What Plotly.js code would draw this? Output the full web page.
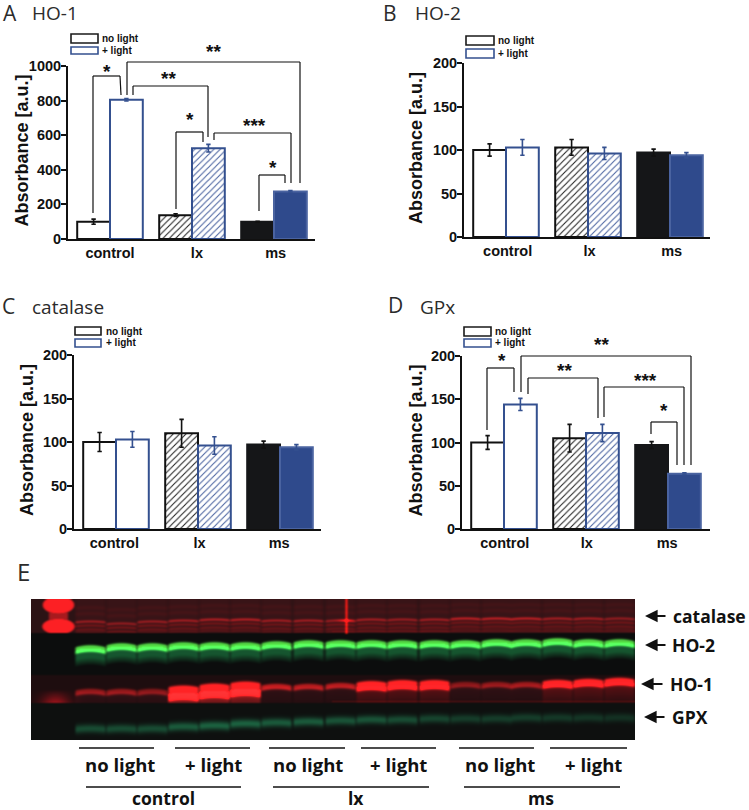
<!DOCTYPE html>
<html>
<head>
<meta charset="utf-8">
<script src="https://cdn.plot.ly/plotly-3.0.1.min.js"></script>
<style>html,body{margin:0;padding:0;background:#fff;overflow:hidden}#chart{width:749px;height:810px}</style>
</head>
<body>
<div id="chart"></div>
<script>
// ---------- bar chart data ----------
const groups = ["control", "lx", "ms"];
const groupIndex = [0, 1, 2];
const seriesNames = ["no light", "+ light"];

const ho1NoLight = [100, 138, 100];
const ho1NoLightErr = [15, 8, 3];
const ho1Light = [805, 525, 275];
const ho1LightErr = [7, 22, 5];

const ho2NoLight = [100, 103, 97];
const ho2NoLightErr = [7, 9, 4];
const ho2Light = [103, 96, 94];
const ho2LightErr = [9, 7, 3];

const catNoLight = [100, 110, 97];
const catNoLightErr = [11, 16, 4];
const catLight = [103, 96, 94];
const catLightErr = [9, 10, 3];

const gpxNoLight = [100, 105, 97];
const gpxNoLightErr = [8, 16, 4];
const gpxLight = [144, 111, 64];
const gpxLightErr = [7, 10, 1];

// ---------- blot readings (18 lanes) ----------
const catBandLevel = [.6,.55,.6,.65,.7,.75,.65,.65,.6,.65,.6,.65,.8,.8,.8,.65,.65,.55];
const catBandRow   = [22,24,22,21,20,20,21,21,21,20,20,20,19,19,19,19,19,19];
const ho2BandRow   = [49,47,47,46,46,46,45,44,44,44,44,44,44,43,43,42,43,43];
const ho1BandLevel = [.5,.5,.45,1,1,1,.7,.65,.65,1,1,1,.45,.5,.55,1,1,1];
const ho1BandRow   = [92,92,92,93,91,89,87,87,86,86,85,85,85,85,85,84,83,82];
const gpxBandLevel = [.4,.4,.4,.5,.55,.55,.5,.5,.45,.45,.4,.35,.3,.3,.3,.27,.25,.22];
const gpxBandRow   = [129,129,129,127,126,124,123,122,121,120,120,119,119,119,118,118,118,118];
const laneColumns  = [59,90,121,152,183,214,245,277,309,340,371,403,434,465,495,526,557,588];

// ---------- page geometry helpers ----------
const W = 749, H = 810;
const px = x => x / W;
const py = y => 1 - y / H;
const BLACK = "#111111", BLUE = "#34508f", FILLK = "#151618", FILLB = "#2f4a8c";
const ARIAL = "Liberation Sans, Arial, sans-serif";
const HEAD = "Open Sans, sans-serif";

const panels = [
  {ax:"", left:68, right:315, top:66, bot:239, ymax:1000, dtick:200, a:ho1NoLight, ae:ho1NoLightErr, b:ho1Light, be:ho1LightErr, ticks:[0,1.06,2.02], titleX:22},
  {ax:"2", left:464, right:710, top:63, bot:237, ymax:200, dtick:50, a:ho2NoLight, ae:ho2NoLightErr, b:ho2Light, be:ho2LightErr, ticks:[0.02,1.02,2.02], titleX:416},
  {ax:"3", left:74, right:321, top:355, bot:529, ymax:200, dtick:50, a:catNoLight, ae:catNoLightErr, b:catLight, be:catLightErr, ticks:[-0.02,1.02,1.99], titleX:27},
  {ax:"4", left:462, right:710, top:356, bot:529, ymax:200, dtick:50, a:gpxNoLight, ae:gpxNoLightErr, b:gpxLight, be:gpxLightErr, ticks:[0.01,1.01,1.99], titleX:415}
];

const traces = [];
const layout = {
  width: W, height: H, autosize: false, showlegend: false,
  margin: {l:0, r:0, t:0, b:0, pad:0},
  paper_bgcolor: "#fff", plot_bgcolor: "rgba(0,0,0,0)",
  barmode: "group", bargap: 0.2, bargroupgap: 0,
  font: {family: ARIAL, color: BLACK},
  shapes: [], annotations: []
};

// one slot per series; the hatched lx bar shares its slot through offsetgroup
function barPart(panel, slot, name, idx, vals, errs, style) {
  const marker = {
    color: style.fill,
    line: {color: style.line, width: 2}
  };
  if (style.hatch) {
    marker.pattern = {shape: "/", fgcolor: style.hatch, bgcolor: "#ffffff", size: 4.5, solidity: 0.24};
  }
  return {
    type: "bar", name: name, offsetgroup: slot,
    x: idx.map(i => groupIndex[i]), y: idx.map(i => vals[i]),
    xaxis: "x" + panel.ax, yaxis: "y" + panel.ax, marker: marker,
    error_y: {type: "data", array: idx.map(i => errs[i]), visible: true, color: style.err, thickness: 1.6, width: 2.2}
  };
}

panels.forEach(p => {
  traces.push(barPart(p, "a", seriesNames[0], [0], p.a, p.ae, {fill:"#ffffff", line:BLACK, err:BLACK}));
  traces.push(barPart(p, "a", seriesNames[0], [1], p.a, p.ae, {fill:"#ffffff", line:BLACK, err:BLACK, hatch:"#222222"}));
  traces.push(barPart(p, "a", seriesNames[0], [2], p.a, p.ae, {fill:FILLK, line:FILLK, err:BLACK}));
  traces.push(barPart(p, "b", seriesNames[1], [0], p.b, p.be, {fill:"#ffffff", line:BLUE, err:BLUE}));
  traces.push(barPart(p, "b", seriesNames[1], [1], p.b, p.be, {fill:"#ffffff", line:BLUE, err:BLUE, hatch:"#4a63a0"}));
  traces.push(barPart(p, "b", seriesNames[1], [2], p.b, p.be, {fill:FILLB, line:"#4a63a0", err:BLUE}));
  const xmin = -42 / 82, xmax = (p.right - p.left - 42) / 82;
  layout["xaxis" + p.ax] = {
    domain: [px(p.left), px(p.right)], range: [xmin, xmax], anchor: "y" + p.ax,
    tickmode: "array", tickvals: p.ticks, ticktext: groups, ticks: "",
    showline: true, linecolor: BLACK, linewidth: 2, showgrid: false, zeroline: false,
    tickfont: {family: ARIAL, size: 14.5, color: BLACK, weight: 700}, ticklabelstandoff: 0, fixedrange: true
  };
  layout["yaxis" + p.ax] = {
    domain: [py(p.bot), py(p.top)], range: [0, p.ymax], anchor: "x" + p.ax, dtick: p.dtick, tick0: 0,
    ticks: "outside", ticklen: 5, tickwidth: 2, tickcolor: BLACK, ticklabelstandoff: -3,
    showline: true, linecolor: BLACK, linewidth: 2, showgrid: false, zeroline: false,
    tickfont: {family: ARIAL, size: 14.5, color: BLACK, weight: 700},
    fixedrange: true
  };
  layout.annotations.push({
    xref: "paper", yref: "paper", x: px(p.titleX), y: py((p.top + p.bot) / 2 - 2), text: "Absorbance [a.u.]",
    textangle: -90, showarrow: false, xanchor: "center", yanchor: "middle",
    font: {family: ARIAL, size: 18, color: BLACK, weight: 700}
  });
});

// ---------- page furniture ----------
function seg(x0, y0, x1, y1, col, w) {
  layout.shapes.push({type: "line", xref: "paper", yref: "paper", x0: px(x0), y0: py(y0), x1: px(x1), y1: py(y1), line: {color: col || BLACK, width: w || 1.2}});
}
function label(text, x, y, size, opts) {
  opts = opts || {};
  layout.annotations.push({
    xref: "paper", yref: "paper", x: px(x), y: py(y), text: text, showarrow: false,
    xanchor: opts.anchor || "left", yanchor: "middle",
    font: {family: opts.family || ARIAL, size: size, color: opts.color || BLACK, weight: opts.weight || 400}
  });
}
function bracket(pts) {
  for (let i = 0; i + 1 < pts.length; i++) seg(pts[i][0], pts[i][1], pts[i+1][0], pts[i+1][1]);
}
function stars(text, x, y) { label(text, x, y + 2, 19, {anchor: "center", weight: 700}); }
function swatch(x0, x1, y0, y1, col) {
  layout.shapes.push({type: "rect", xref: "paper", yref: "paper", x0: px(x0), x1: px(x1), y0: py(y1), y1: py(y0), line: {color: col, width: 1.6}, fillcolor: "#fff"});
}

// legends
[
  {x0:71, x1:98, tx:100, r1:[34,43], r2:[47,54], t1:38, t2:50},
  {x0:466, x1:494, tx:496, r1:[36,45], r2:[49,58], t1:40, t2:53},
  {x0:75, x1:101, tx:104, r1:[327,335], r2:[339,347], t1:331, t2:343},
  {x0:464, x1:491, tx:493, r1:[327,336], r2:[339,347], t1:331, t2:343}
].forEach(l => {
  swatch(l.x0, l.x1, l.r1[0], l.r1[1], "#1a1a1a");
  swatch(l.x0, l.x1, l.r2[0], l.r2[1], BLUE);
  label(seriesNames[0], l.tx, l.t1, 10, {weight: 700});
  label(seriesNames[1], l.tx, l.t2, 10, {weight: 700});
});

// panel letters and headings
[
  ["A", 1, 13, "HO-1", 30, 13],
  ["B", 381, 13, "HO-2", 413, 13],
  ["C", 0, 306, "catalase", 30, 307],
  ["D", 386, 305, "GPx", 418, 307]
].forEach(r => {
  label(r[0], r[1], r[2], 21, {family: HEAD, color: "#2b2b2b"});
  label(r[3], r[4], r[5], 19, {family: HEAD, color: "#2b2b2b"});
});
label("E", 15, 571, 24, {family: HEAD, color: "#2b2b2b"});

// significance brackets, panel A
bracket([[93,213],[93,76],[120,76],[121,95]]);       stars("*", 107, 69);
bracket([[127,95],[127,62],[300,62],[300,183]]);     stars("**", 213, 49);
bracket([[133,95],[133,86],[208,86],[208,137]]);     stars("**", 168, 76);
bracket([[176,209],[176,132],[203,132],[203,142]]);  stars("*", 190, 117);
bracket([[214,140],[214,133],[291,133],[291,183]]);  stars("***", 255, 123);
bracket([[259,211],[259,175],[285,175],[285,183]]);  stars("*", 273, 166);
// significance brackets, panel D
bracket([[487,430],[487,368],[514,368],[514,392]]);  stars("*", 502, 358);
bracket([[521,392],[521,356],[691,356],[691,465]]);  stars("**", 601, 342);
bracket([[528,394],[528,378],[598,378],[598,418]]);  stars("**", 564, 368);
bracket([[604,417],[604,387],[684,387],[684,465]]);  stars("***", 645, 378);
bracket([[651,434],[651,422],[677,422],[677,465]]);  stars("*", 664, 408);

// blot side labels with arrows
[
  ["catalase", 671, 616, 667, 645],
  ["HO-2", 670, 645, 667, 645],
  ["HO-1", 668, 684, 664, 641],
  ["GPX", 670, 717, 666, 644]
].forEach(r => {
  label(r[0], r[1], r[2], 17.5, {family: HEAD, weight: 700});
  layout.annotations.push({
    xref: "paper", yref: "paper", axref: "pixel", ayref: "pixel",
    x: px(r[4]), y: py(r[2]), ax: r[3] - r[4], ay: 0, text: "", showarrow: true,
    arrowhead: 2, arrowsize: 1.15, arrowwidth: 2.2, arrowcolor: BLACK
  });
});

// blot lane captions
[[79,154,119.5,0],[175,250,213,1],[269,345,308,0],[361,436,399,1],[459,534,500,0],[550,627,593,1]].forEach(r => {
  seg(r[0], 748, r[1], 748, BLACK, 1.5);
  label(seriesNames[r[3]], r[2], 764, 18.5, {family: HEAD, weight: 700, anchor: "center"});
});
[[86,241,163],[273,429,356],[464,620,541]].forEach((r, i) => {
  seg(r[0], 787, r[1], 787, BLACK, 1.5);
  label(groups[i], r[2], 798, 17.5, {family: HEAD, weight: 700, anchor: "center"});
});

// ---------- blot picture as an image trace ----------
const BW = 604, BH = 141, ROW1 = 34, ROW2 = 76, ROW3 = 104;
const gauss = (d, s) => Math.exp(-d * d / (2 * s * s));
const clamp = (v, a, b) => Math.max(a, Math.min(b, v));

function blotPixel(col, row) {
  let r, g, b;
  if (row < ROW1)      { r = 44; g = 19; b = 21; }
  else if (row < ROW2) { r = 12; g = 13; b = 13; }
  else if (row < ROW3) { r = 30; g = 13; b = 15; }
  else                 { r = 14; g = 16; b = 15; }

  for (let i = 0; i < laneColumns.length; i++) {
    const dx = col - laneColumns[i];
    const edge = 14.5 - Math.abs(dx);
    if (edge < -2) continue;
    const mask = clamp((edge + 2) / 3, 0, 1);
    const droop = (dx * dx) / (14.5 * 14.5);

    if (row < ROW1) {
      const d = row - catBandRow[i] - 0.8 * droop;
      const lv = catBandLevel[i];
      r += mask * (12 + 175 * lv * gauss(d, 0.9)
        + 60 * gauss(d - 4, 0.9) + 48 * gauss(d - 8, 0.9) + 32 * gauss(d - 11, 0.9)
        + 14 * gauss(d + 8, 1.4) + 12 * gauss(d + 14, 1.4));
      g += mask * (1 + 14 * lv * gauss(d, 0.9));
      b += mask * (2 + 16 * lv * gauss(d, 0.9));
    } else if (row < ROW2) {
      const d = row - ho2BandRow[i] - 2 * droop;
      const core = Math.abs(d) <= 2 ? 1 : gauss(Math.abs(d) - 2, 1.1);
      g += mask * 205 * core;
      r += mask * 72 * core;
      b += mask * 56 * core;
      if (d > 0 && d < 17) {
        const sm = clamp((17 - d) / 8, 0, 1);
        g += mask * 72 * sm;
        r += mask * 10 * sm;
        b += mask * 34 * sm;
      }
    } else if (row < ROW3) {
      const lv = ho1BandLevel[i];
      const big = i >= 3 && i <= 5;
      const half = big ? 5.5 : (lv === 1 ? (i >= 15 ? 2.2 : 3) : 1.1);
      const d = row - ho1BandRow[i] - 1.6 * droop;
      const core = Math.abs(d) <= half ? 1 : gauss(Math.abs(d) - half, 1.3);
      r += mask * 230 * lv * core;
      g += mask * 22 * lv * core;
      b += mask * 22 * lv * core;
      if (d > 0) {
        const sm = clamp(1 - d / 26, 0, 1);
        r += mask * (big ? 150 : (lv === 1 ? 70 : 20)) * sm;
        g += mask * (big ? 18 : 4) * sm;
        b += mask * (big ? 18 : 6) * sm;
      }
    } else {
      const lv = gpxBandLevel[i];
      const d = row - gpxBandRow[i] - 0.8 * droop;
      const e = gauss(d, 3);
      g += mask * 150 * lv * e;
      b += mask * 90 * lv * e;
      r += mask * 26 * lv * e;
    }
  }
  // marker ladder: two saturated rounded blobs joined by a narrower waist
  if (row < ROW1) {
    const dxL = col - 27;
    const ell = (cy, hy, hx) => clamp((1 - (dxL * dxL) / (hx * hx) - ((row - cy) * (row - cy)) / (hy * hy)) * 3.5, 0, 1);
    const waist = clamp((11 - Math.abs(dxL)) / 3, 0, 1) * 0.6;
    const amt = Math.max(ell(5.5, 9.5, 17), ell(27, 8.5, 17.5), row > 6 && row < 27 ? waist : 0);
    r = r + (252 - r) * amt; g = g + (32 - g) * amt; b = b + (36 - b) * amt;
  }
  if (row >= ROW2 && row < ROW3) {
    const v = gauss((col - 24) / 12, 0.8) * clamp((row - ROW2 - 14) / 14, 0, 1);
    r += 130 * v; g += 6 * v; b += 12 * v;
  }
  // scratch through the catalase row and thin gel edges
  if (row < ROW1 + 1) {
    const s = gauss(col - 315, 0.9);
    r += 190 * s + 150 * gauss(col - 315, 5) * gauss(row - 21, 0.9);
    g += 8 * s;
  }
  if (col > 300 && row === ROW1 - 2) { r += 30; }
  if (col > 300 && row === ROW3 - 2) { r += 45; g += 3; }
  return [r, g, b];
}

const rawBlot = [];
for (let row = 0; row < BH; row++) {
  const line = [];
  for (let col = 0; col < BW; col++) line.push(blotPixel(col, row));
  rawBlot.push(line);
}
// light softening, the way a scanned membrane looks
const blotZ = rawBlot.map((line, row) => line.map((c, col) => {
  const out = [0, 0, 0];
  let sum = 0;
  for (let dy = -1; dy <= 1; dy++) for (let dx = -1; dx <= 1; dx++) {
    const rr = row + dy, cc = col + dx;
    if (rr < 0 || rr >= BH || cc < 0 || cc >= BW) continue;
    const wt = (dy === 0 ? 2 : 1) * (dx === 0 ? 2 : 1);
    const v = rawBlot[rr][cc];
    out[0] += v[0] * wt; out[1] += v[1] * wt; out[2] += v[2] * wt;
    sum += wt;
  }
  return out.map(v => clamp(v / sum, 0, 255) | 0);
}));
traces.push({type: "image", z: blotZ, x0: 0.5, y0: 0.5, dx: 1, dy: 1, xaxis: "x5", yaxis: "y5", hoverinfo: "skip"});
layout.xaxis5 = {domain: [px(31), px(31 + BW)], range: [0, BW], anchor: "y5", visible: false, fixedrange: true, scaleanchor: false};
layout.yaxis5 = {domain: [py(599 + BH), py(599)], range: [BH, 0], anchor: "x5", visible: false, fixedrange: true};

Plotly.newPlot("chart", traces, layout, {displayModeBar: false, staticPlot: true});
</script>
</body>
</html>
